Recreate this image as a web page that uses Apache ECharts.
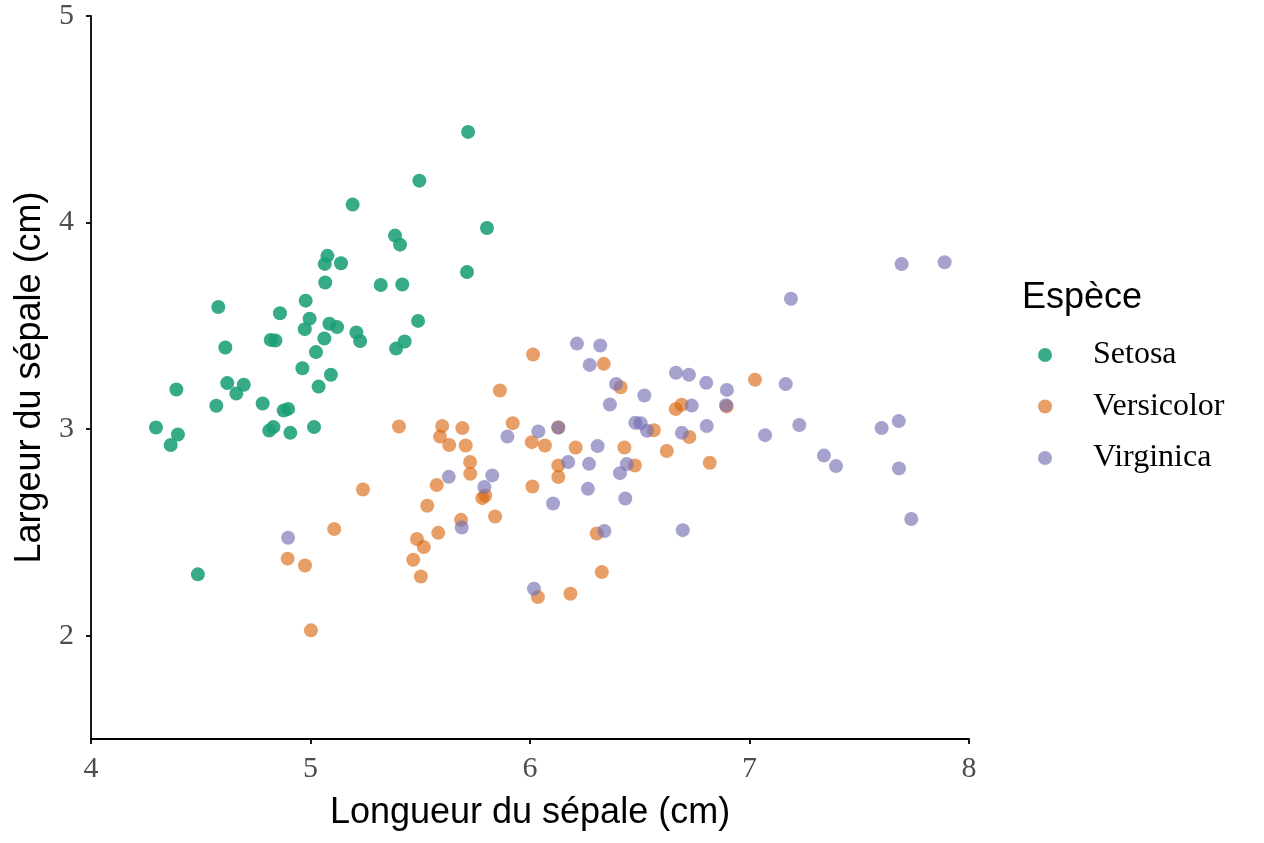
<!DOCTYPE html>
<html>
<head>
<meta charset="utf-8">
<script src="https://cdn.jsdelivr.net/npm/echarts@6/dist/echarts.min.js"></script>
<style>
  html, body { margin: 0; padding: 0; background: #fff; }
  #chart { width: 1264px; height: 843px; }
</style>
</head>
<body>
<div id="chart"></div>
<script>
/* données (longueur, largeur du sépale, avec jitter) */
var especes = ['Setosa', 'Versicolor', 'Virginica'];
var couleurs = ['rgba(27,158,119,0.88)', 'rgba(217,95,2,0.6)', 'rgba(117,112,179,0.65)'];
var xTicks = [4, 5, 6, 7, 8];
var yTicks = [2, 3, 4, 5];

var setosa = [
    [5.496,4.203],[5.192,4.087],[5.385,3.937],[5.408,3.893],[5.077,3.839],
    [5.065,3.800],[5.139,3.803],[5.067,3.710],[5.320,3.698],[5.418,3.700],
    [4.978,3.622],[4.580,3.591],[4.861,3.561],[4.996,3.535],[4.974,3.484],
    [5.086,3.510],[5.121,3.494],[5.490,3.524],[5.209,3.468],[5.226,3.427],
    [5.063,3.439],[4.819,3.432],[4.840,3.429],[4.612,3.395],[5.025,3.373],
    [5.390,3.390],[5.429,3.424],[4.963,3.295],[5.093,3.263],[5.037,3.206],
    [4.389,3.192],[4.621,3.223],[4.696,3.215],[4.662,3.172],[4.571,3.113],
    [4.782,3.124],[4.878,3.090],[4.898,3.098],[4.296,3.008],[4.396,2.974],
    [4.363,2.923],[4.812,2.993],[4.831,3.010],[4.908,2.982],[5.016,3.010],
    [4.487,2.297],[5.718,4.439],[5.804,3.974],[5.713,3.761]
];
var versicolor = [
    [6.014,3.361],[6.336,3.316],[5.863,3.187],[6.413,3.203],[5.403,3.013],
    [5.600,3.015],[5.590,2.964],[5.692,3.005],[5.632,2.923],[5.707,2.921],
    [5.921,3.029],[6.008,2.937],[6.068,2.921],[6.129,3.008],[6.208,2.911],
    [6.430,2.911],[6.478,2.824],[5.727,2.841],[5.728,2.784],[5.575,2.729],
    [5.532,2.629],[5.783,2.666],[5.796,2.679],[5.841,2.577],[5.686,2.561],
    [5.582,2.498],[5.485,2.468],[5.516,2.429],[5.468,2.368],[5.503,2.287],
    [6.011,2.722],[6.129,2.824],[6.129,2.768],[6.304,2.495],[6.327,2.308],
    [6.036,2.187],[6.184,2.203],[6.691,3.118],[6.664,3.097],[6.896,3.110],
    [7.025,3.239],[6.564,2.995],[6.726,2.962],[6.623,2.894],[6.819,2.837],
    [5.239,2.708],[5.108,2.516],[4.896,2.373],[4.975,2.340],[5.002,2.026]
];
var virginica = [
    [6.214,3.414],[6.320,3.405],[6.272,3.311],[6.392,3.219],[6.364,3.119],
    [6.521,3.163],[6.665,3.273],[6.724,3.263],[6.803,3.224],[6.897,3.190],
    [6.737,3.114],[6.893,3.116],[6.480,3.031],[6.504,3.029],[6.533,2.992],
    [6.692,2.982],[6.805,3.015],[6.308,2.918],[6.038,2.989],[5.897,2.964],
    [6.129,3.008],[6.174,2.841],[6.269,2.832],[6.441,2.831],[6.410,2.787],
    [6.264,2.711],[6.434,2.664],[6.105,2.640],[6.339,2.507],[6.696,2.511],
    [6.018,2.227],[5.630,2.769],[5.828,2.776],[5.792,2.720],[5.689,2.524],
    [4.898,2.474],[7.693,3.799],[7.889,3.808],[7.189,3.631],[7.165,3.218],
    [7.071,2.971],[7.227,3.020],[7.602,3.005],[7.680,3.039],[7.339,2.872],
    [7.394,2.821],[7.681,2.810],[7.737,2.565]
];
var donnees = [setosa, versicolor, virginica];

var chart = echarts.init(document.getElementById('chart'));

var series = especes.map(function (nom, i) {
    return {
        name: nom,
        type: 'scatter',
        symbol: 'circle',
        symbolSize: 14,
        data: donnees[i],
        itemStyle: { color: couleurs[i], opacity: 1 },
        emphasis: { disabled: true }
    };
});

var axisCommun = {
    axisLine: { show: true, onZero: false, lineStyle: { color: '#000', width: 1.8 } },
    axisTick: { show: true, length: 5, lineStyle: { color: '#000', width: 1.8 } },
    splitLine: { show: false },
    nameLocation: 'middle',
    nameTextStyle: { fontFamily: 'Liberation Sans', fontSize: 36, color: '#000' }
};

var option = {
    animation: false,
    backgroundColor: '#fff',
    grid: { left: 91, right: 295, top: 16, bottom: 104, containLabel: false },
    title: {
        text: 'Espèce',
        left: 1022,
        top: 280,
        padding: 0,
        textStyle: { fontFamily: 'Liberation Sans', fontSize: 36, fontWeight: 'normal', color: '#000' }
    },
    legend: {
        orient: 'vertical',
        left: 1038,
        top: 339,
        padding: 0,
        itemWidth: 14,
        itemHeight: 14,
        itemGap: 19.5,
        icon: 'circle',
        data: especes,
        textStyle: {
            fontFamily: 'Liberation Serif',
            fontSize: 32,
            lineHeight: 32,
            color: '#000',
            padding: [0, 0, 0, 36]
        }
    },
    xAxis: Object.assign({}, axisCommun, {
        type: 'value',
        min: 4,
        max: 8,
        interval: 1,
        name: 'Longueur du sépale (cm)',
        nameGap: 56,
        axisLabel: {
            margin: 15,
            fontFamily: 'Liberation Serif',
            fontSize: 30,
            color: '#4d4d4d'
        }
    }),
    yAxis: Object.assign({}, axisCommun, {
        type: 'value',
        min: 1.5,
        max: 5,
        name: 'Largeur du sépale (cm)',
        nameGap: 40,
        nameRotate: 90,
        axisTick: { show: true, length: 5, customValues: yTicks, lineStyle: { color: '#000', width: 1.8 } },
        axisLabel: {
            margin: 17,
            customValues: yTicks,
            fontFamily: 'Liberation Serif',
            fontSize: 30,
            color: '#4d4d4d'
        }
    }),
    series: series
};

chart.setOption(option);
</script>
</body>
</html>
